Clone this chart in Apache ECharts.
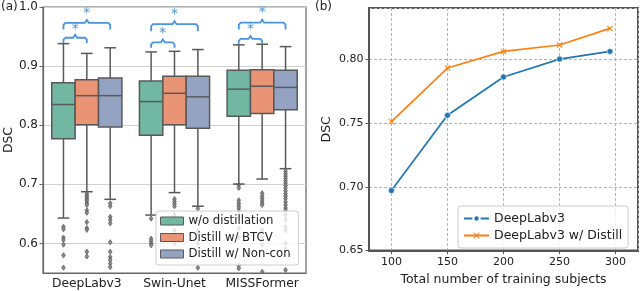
<!DOCTYPE html>
<html><head><meta charset="utf-8">
<script src="https://cdn.jsdelivr.net/npm/echarts@6/dist/echarts.min.js"></script>
<style>html,body{margin:0;padding:0;background:#fff}#c{width:640px;height:291px}</style>
</head><body><div id="c"></div>
<script>
// ---------- Panel (a) data ----------
const models = ['DeepLabv3', 'Swin-Unet', 'MISSFormer'];
const methods = ['w/o distillation', 'Distill w/ BTCV', 'Distill w/ Non-con'];
// per model: [lower whisker, Q1, median, Q3, upper whisker]
const statsNoDistill = [[0.643, 0.777, 0.835, 0.872, 0.938], [0.648, 0.783, 0.840, 0.875, 0.924], [0.7005, 0.815, 0.861, 0.893, 0.936]];
const statsBTCV      = [[0.6875, 0.801, 0.850, 0.877, 0.9215], [0.686, 0.801, 0.854, 0.883, 0.925], [0.709, 0.820, 0.866, 0.894, 0.937]];
const statsNonCon    = [[0.6746, 0.797, 0.850, 0.880, 0.931], [0.663, 0.795, 0.848, 0.883, 0.928], [0.7265, 0.826, 0.864, 0.893, 0.933]];
const outNoDistill = [
  [0.628, 0.624, 0.610, 0.606, 0.598, 0.580, 0.559],
  [0.642, 0.608, 0.604, 0.600, 0.597],
  [0.699, 0.694, 0.673, 0.668, 0.664, 0.660, 0.655, 0.644, 0.625, 0.610, 0.563, 0.558]
];
const outBTCV = [
  [0.684, 0.681, 0.678, 0.675, 0.672, 0.668, 0.665, 0.656, 0.652, 0.636, 0.626, 0.623, 0.586, 0.578],
  [0.675, 0.671, 0.667, 0.663, 0.648, 0.622, 0.600, 0.585],
  [0.685, 0.680, 0.676, 0.672, 0.668, 0.665, 0.622, 0.611, 0.598, 0.552]
];
const outNonCon = [
  [0.668, 0.663, 0.645, 0.640, 0.634, 0.602, 0.586, 0.577, 0.572, 0.566, 0.560],
  [0.659, 0.640, 0.620, 0.600, 0.559],
  [0.722, 0.718, 0.714, 0.710, 0.706, 0.702, 0.698, 0.694, 0.689, 0.684, 0.680, 0.676, 0.670, 0.665, 0.660, 0.656, 0.648, 0.640, 0.628, 0.622, 0.600, 0.590, 0.555]
];
// significance brackets: [model index, from method, to method, bracket level, end level, star level]
const sigBrackets = [
  [0, 0, 1, 0.948, 0.939, 0.962], [0, 0, 2, 0.973, 0.962, 0.989],
  [1, 0, 1, 0.940, 0.931, 0.955], [1, 0, 2, 0.971, 0.959, 0.988],
  [2, 0, 1, 0.946, 0.938, 0.962], [2, 0, 2, 0.9735, 0.962, 0.9905]
];

// ---------- Panel (b) data ----------
const subjects = [100, 150, 200, 250, 295];
const dscBase = [0.697, 0.756, 0.786, 0.800, 0.806];
const dscDistill = [0.751, 0.793, 0.806, 0.811, 0.824];

const boxColors = ['#71b7a1', '#e99575', '#95a3c3'];
const EDGE = '#595959';
const FONT = 'DejaVu Sans';
const BLUE_SIG = '#4a94dc';

function boxSeries(name, k, stats) {
  return {
    type: 'custom', name: name, xAxisIndex: 0, yAxisIndex: 0, z: 3,
    itemStyle: { color: boxColors[k], borderColor: EDGE, borderWidth: 1 },
    data: stats.map((s, i) => [i, s[0], s[1], s[2], s[3], s[4]]),
    encode: { x: 0, y: [1, 2, 3, 4, 5] },
    renderItem: function (params, api) {
      const i = api.value(0);
      const band = api.size([1, 0])[0];
      const bw = band * 0.8 / 3;
      const cx = api.coord([i, 0.8])[0] + (k - 1) * bw;
      const y = [1, 2, 3, 4, 5].map(d => api.coord([i, api.value(d)])[1]);
      const half = bw / 2, cap = bw / 4;
      const ls = { stroke: EDGE, lineWidth: 1.5 };
      return { type: 'group', children: [
        { type: 'line', shape: { x1: cx, y1: y[0], x2: cx, y2: y[1] }, style: ls },
        { type: 'line', shape: { x1: cx, y1: y[3], x2: cx, y2: y[4] }, style: ls },
        { type: 'line', shape: { x1: cx - cap, y1: y[0], x2: cx + cap, y2: y[0] }, style: ls },
        { type: 'line', shape: { x1: cx - cap, y1: y[4], x2: cx + cap, y2: y[4] }, style: ls },
        { type: 'rect', shape: { x: cx - half, y: y[3], width: bw, height: y[1] - y[3] }, style: { fill: boxColors[k], stroke: EDGE, lineWidth: 1.5 } },
        { type: 'line', shape: { x1: cx - half, y1: y[2], x2: cx + half, y2: y[2] }, style: ls }
      ] };
    }
  };
}

function outlierSeries(k, outs) {
  const data = [];
  outs.forEach((arr, i) => arr.forEach(v => data.push([i, v])));
  return {
    type: 'custom', name: 'out' + k, xAxisIndex: 0, yAxisIndex: 0, z: 2, clip: true,
    data: data, encode: { x: 0, y: 1 },
    renderItem: function (params, api) {
      const i = api.value(0);
      const band = api.size([1, 0])[0];
      const bw = band * 0.8 / 3;
      const p = api.coord([i, api.value(1)]);
      const cx = p[0] + (k - 1) * bw, cy = p[1];
      return { type: 'polygon', shape: { points: [[cx, cy - 2.6], [cx + 1.8, cy], [cx, cy + 2.6], [cx - 1.8, cy]] },
        style: { fill: '#8a8a8a', stroke: '#5f5f5f', lineWidth: 0.8 } };
    }
  };
}

const bracketSeries = {
  type: 'custom', name: 'sig', xAxisIndex: 0, yAxisIndex: 0, z: 4,
  data: sigBrackets, encode: { x: 0, y: 3 },
  renderItem: function (params, api) {
    const i = api.value(0), a = api.value(1), b = api.value(2);
    const band = api.size([1, 0])[0];
    const bw = band * 0.8 / 3;
    const c = api.coord([i, api.value(3)]);
    const x1 = c[0] + (a - 1) * bw, x2 = c[0] + (b - 1) * bw, yl = c[1];
    const ye = api.coord([i, api.value(4)])[1];
    const ys = api.coord([i, api.value(5)])[1];
    const xm = (x1 + x2) / 2;
    return { type: 'group', children: [
      { type: 'polyline', shape: { points: [[x1, ye], [x1, yl + 2], [x1 + 2, yl], [xm - 2, yl], [xm, yl - 3], [xm + 2, yl], [x2 - 2, yl], [x2, yl + 2], [x2, ye]] },
        style: { stroke: BLUE_SIG, lineWidth: 1.8, fill: null } },
      { type: 'text', x: xm, y: ys, style: { text: '*', fill: BLUE_SIG, font: '14px ' + FONT, align: 'center', verticalAlign: 'middle' } }
    ] };
  }
};

const xMarker = 'path://M0,1.2L1.2,0L5,3.8L8.8,0L10,1.2L6.2,5L10,8.8L8.8,10L5,6.2L1.2,10L0,8.8L3.8,5Z';

const chart = echarts.init(document.getElementById('c'), null, { renderer: 'canvas' });
chart.setOption({
  backgroundColor: '#fff',
  animation: false,
  textStyle: { fontFamily: FONT },
  graphic: [
    { type: 'text', left: 1, top: 1, style: { text: '(a)', font: '12px ' + FONT, fill: '#222' } },
    { type: 'text', left: 315, top: 1, style: { text: '(b)', font: '12px ' + FONT, fill: '#222' } }
  ],
  grid: [
    { left: 43, top: 7, width: 263, height: 266, show: true, borderColor: '#666', borderWidth: 1.2, backgroundColor: 'transparent' },
    { left: 369, top: 8, width: 269, height: 245, show: true, borderColor: '#555', borderWidth: 2, backgroundColor: 'transparent' }
  ],
  xAxis: [
    { gridIndex: 0, type: 'category', data: models,
      axisLine: { lineStyle: { color: '#666', width: 1.2 } },
      axisTick: { alignWithLabel: true, length: 3.5, lineStyle: { color: '#666' } },
      axisLabel: { color: '#222', fontSize: 12.3, margin: 5, interval: 0, hideOverlap: false },
      splitLine: { show: false } },
    { gridIndex: 1, type: 'value', min: 80, max: 320,
      name: 'Total number of training subjects', nameLocation: 'middle', nameGap: 21,
      nameTextStyle: { color: '#222', fontSize: 12.5 },
      axisLine: { lineStyle: { color: '#555', width: 2 } },
      axisTick: { show: true, length: 3.5, lineStyle: { color: '#555' } },
      axisLabel: { color: '#222', fontSize: 11, margin: 6.5, showMinLabel: false, showMaxLabel: false },
      splitLine: { show: true, lineStyle: { color: '#b5b5b5', type: [3, 2], width: 1 } } }
  ],
  yAxis: [
    { gridIndex: 0, type: 'value', min: 0.55, max: 1.0,
      name: 'DSC', nameLocation: 'middle', nameGap: 26, nameTextStyle: { color: '#222', fontSize: 12.3 },
      axisLine: { show: true, lineStyle: { color: '#666', width: 1.2 } },
      axisTick: { show: true, length: 3.5, lineStyle: { color: '#666' } },
      axisLabel: { color: '#222', fontSize: 12, margin: 5, showMinLabel: false, formatter: v => v.toFixed(1) },
      splitLine: { show: true, lineStyle: { color: '#d0d0d0', width: 1 } } },
    { gridIndex: 1, type: 'value', min: 0.65, max: 0.84, interval: 0.05,
      name: 'DSC', nameLocation: 'middle', nameGap: 36, nameTextStyle: { color: '#222', fontSize: 12.5 },
      axisLine: { show: true, lineStyle: { color: '#555', width: 2 } },
      axisTick: { show: true, length: 3.5, lineStyle: { color: '#555' } },
      axisLabel: { color: '#222', fontSize: 11, margin: 5.5, showMaxLabel: false, formatter: v => v.toFixed(2) },
      splitLine: { show: true, lineStyle: { color: '#b5b5b5', type: [3, 2], width: 1 } } }
  ],
  legend: [
    { data: methods, orient: 'vertical', left: 156, top: 211, width: 145,
      icon: 'rect', itemWidth: 23, itemHeight: 8, itemGap: 4.5, padding: [4, 8, 5, 4],
      itemStyle: { borderColor: EDGE, borderWidth: 1 },
      backgroundColor: 'rgba(255,255,255,0.8)', borderColor: '#cccccc', borderWidth: 1, borderRadius: 3,
      textStyle: { color: '#222', fontSize: 11.7, fontFamily: FONT } },
    { data: ['DeepLabv3', 'DeepLabv3 w/ Distill'], orient: 'vertical', left: 458, top: 206,
      itemWidth: 25, itemHeight: 8, itemGap: 4, padding: [6, 6, 6, 5],
      backgroundColor: 'rgba(255,255,255,0.8)', borderColor: '#cccccc', borderWidth: 1, borderRadius: 3,
      textStyle: { color: '#222', fontSize: 12.5, fontFamily: FONT } }
  ],
  series: [
    outlierSeries(0, outNoDistill), outlierSeries(1, outBTCV), outlierSeries(2, outNonCon),
    boxSeries(methods[0], 0, statsNoDistill),
    boxSeries(methods[1], 1, statsBTCV),
    boxSeries(methods[2], 2, statsNonCon),
    bracketSeries,
    { type: 'line', name: 'DeepLabv3', xAxisIndex: 1, yAxisIndex: 1,
      data: subjects.map((s, i) => [s, dscBase[i]]),
      symbol: 'circle', symbolSize: 6, color: '#1f77b4',
      itemStyle: { color: '#1f77b4', borderColor: '#ffffff', borderWidth: 0.6 },
      lineStyle: { color: '#1f77b4', width: 1.7 } },
    { type: 'line', name: 'DeepLabv3 w/ Distill', xAxisIndex: 1, yAxisIndex: 1,
      data: subjects.map((s, i) => [s, dscDistill[i]]),
      symbol: xMarker, symbolSize: 6, color: '#ff7f0e',
      itemStyle: { color: '#ff7f0e' },
      lineStyle: { color: '#ff7f0e', width: 1.7 } }
  ]
});
</script></body></html>
